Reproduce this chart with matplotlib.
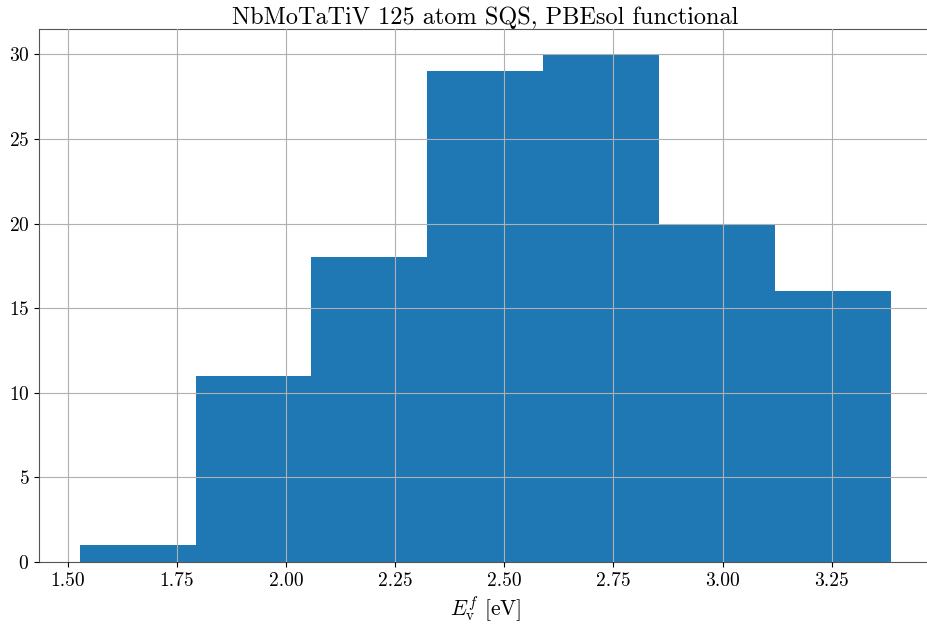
import numpy as np
import matplotlib
matplotlib.use("Agg")
import matplotlib.pyplot as plt

# Computer Modern look without a LaTeX install
plt.rcParams["font.family"] = "serif"
plt.rcParams["font.serif"] = ["cmr10"]
plt.rcParams["mathtext.fontset"] = "cm"
plt.rcParams["axes.formatter.use_mathtext"] = True

# vacancy formation energies, binned (eV)
bin_edges = [1.527, 1.793, 2.058, 2.324, 2.589, 2.855, 3.120, 3.386]
counts = [1, 11, 18, 29, 30, 20, 16]

fig = plt.figure(figsize=(9.28, 6.24), dpi=100)
ax = fig.add_axes([0.042, 0.0994, 0.962, 0.854])

ax.hist(bin_edges[:-1], bins=bin_edges, weights=counts, color="#1f77b4")
ax.grid(True)
ax.set_axisbelow(False)

ax.set_xticks([1.50, 1.75, 2.00, 2.25, 2.50, 2.75, 3.00, 3.25])
ax.set_xticklabels(["1.50", "1.75", "2.00", "2.25", "2.50", "2.75", "3.00", "3.25"])
ax.tick_params(labelsize=14)
for s in ax.spines.values():
    s.set_color("#555555")
ax.spines["right"].set_visible(False)

ax.set_xlabel(r"$E_{\mathrm{v}}^{f}$ [eV]", fontsize=15.5)
ax.set_title("NbMoTaTiV 125 atom SQS, PBEsol functional", fontsize=17.5, pad=3)

fig.savefig("out.png", dpi=100)
